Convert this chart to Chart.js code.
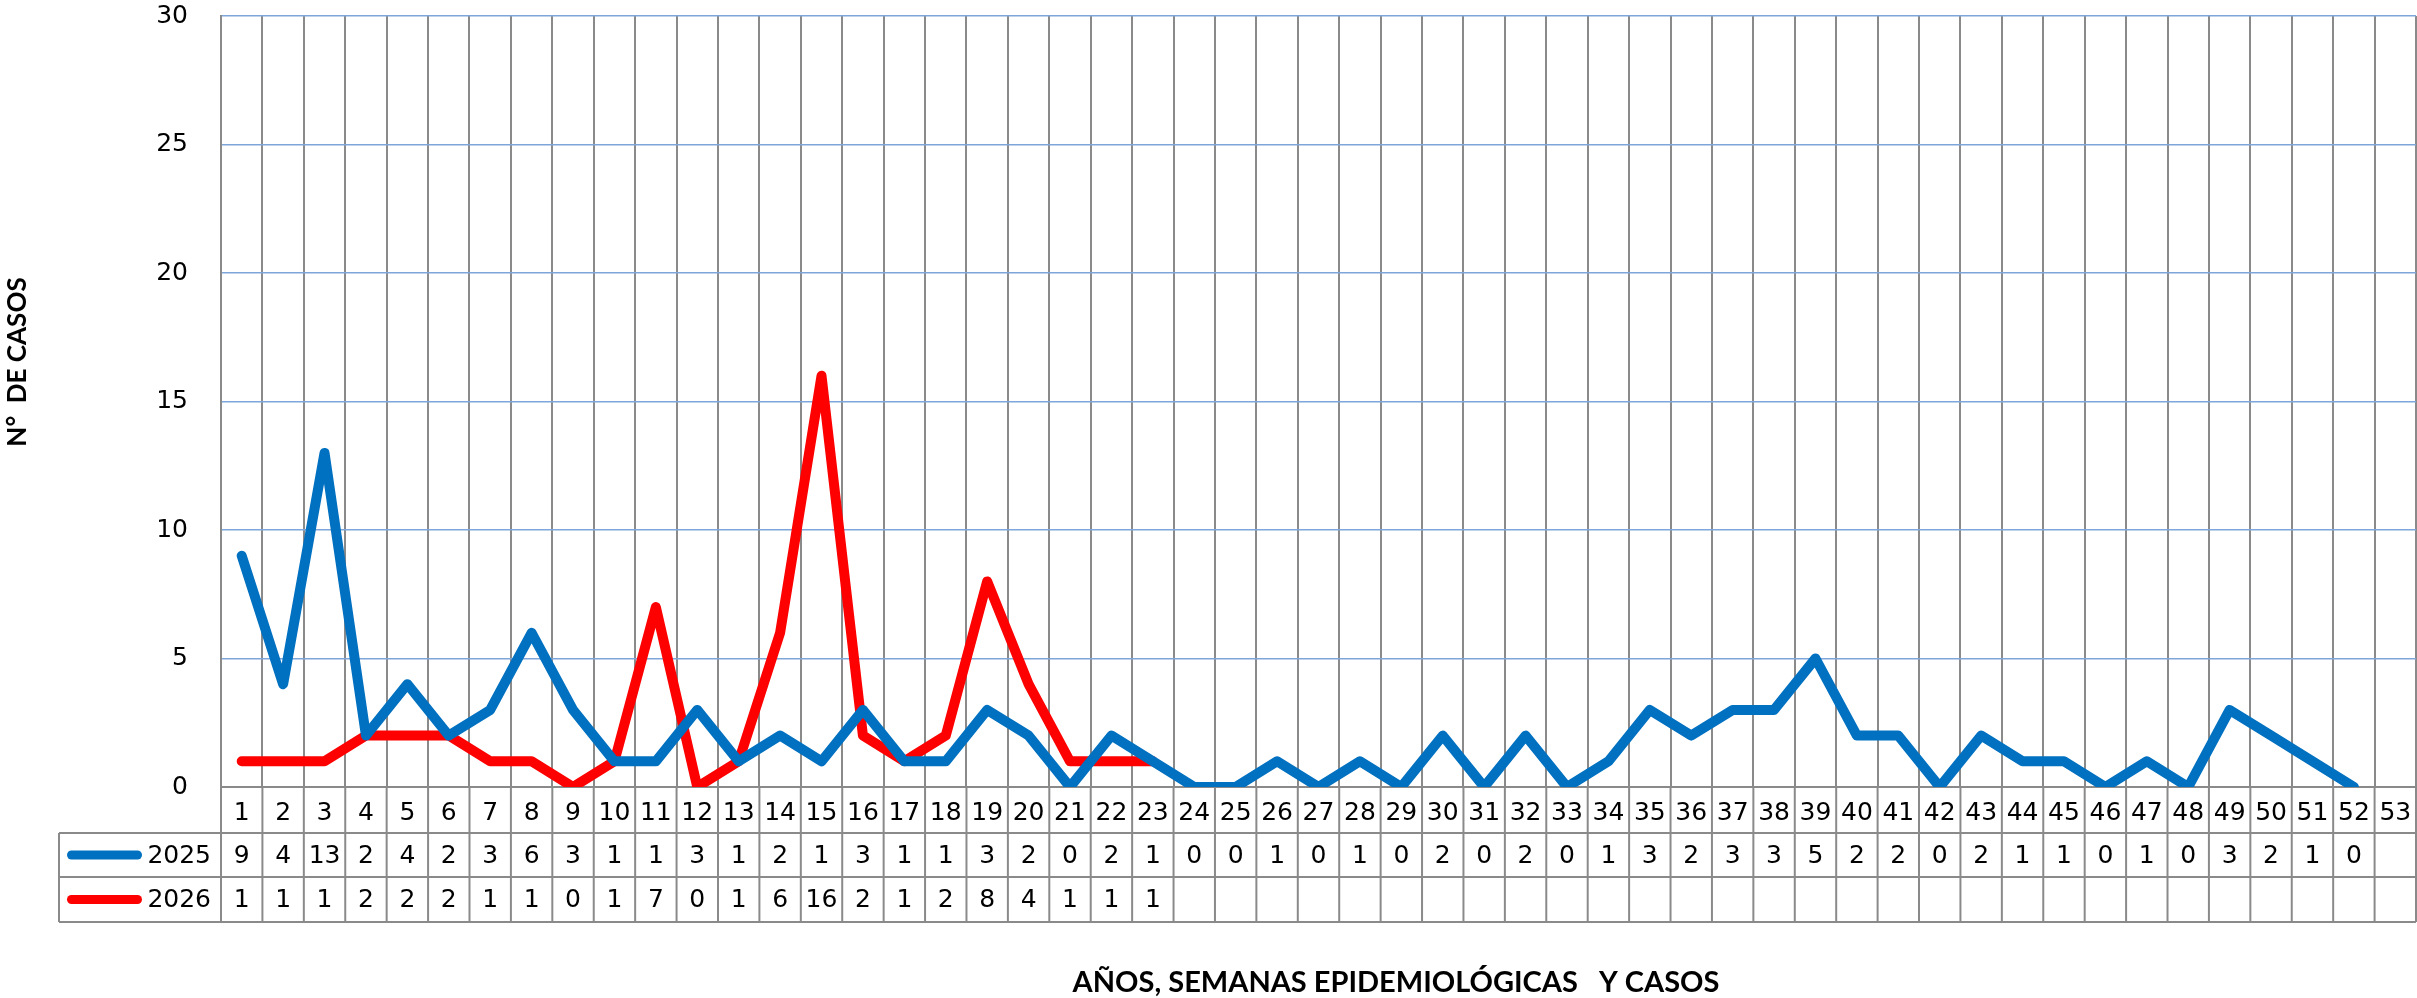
<!DOCTYPE html>
<html><head><meta charset="utf-8">
<script src="https://cdn.jsdelivr.net/npm/chart.js@4.4.1/dist/chart.umd.min.js"></script>
<style>html,body{margin:0;padding:0;background:#fff;}canvas{display:block;}</style>
</head><body>
<canvas id="c" width="2417" height="998"></canvas>
<script>
const weeks = ['1','2','3','4','5','6','7','8','9','10','11','12','13','14','15','16','17','18','19','20','21','22','23','24','25','26','27','28','29','30','31','32','33','34','35','36','37','38','39','40','41','42','43','44','45','46','47','48','49','50','51','52','53'];
const cases2025 = [9,4,13,2,4,2,3,6,3,1,1,3,1,2,1,3,1,1,3,2,0,2,1,0,0,1,0,1,0,2,0,2,0,1,3,2,3,3,5,2,2,0,2,1,1,0,1,0,3,2,1,0,null];
const cases2026 = [1,1,1,2,2,2,1,1,0,1,7,0,1,6,16,2,1,2,8,4,1,1,1,null,null,null,null,null,null,null,null,null,null,null,null,null,null,null,null,null,null,null,null,null,null,null,null,null,null,null,null,null,null];
const yTicks = [0,5,10,15,20,25,30];
const seriesNames = ['2025','2026'];
const yTitle = 'N°  DE CASOS';
const xTitle = 'AÑOS, SEMANAS EPIDEMIOLÓGICAS   Y CASOS';

const BLUE = '#0070C0', RED = '#FF0000', GRIDV = '#8A8A8A', GRIDH = '#7EA6DA';
const NUMFONT = '25px "DejaVu Sans"';

const tablePlugin = {
  id: 'dataTable',
  afterDraw(chart) {
    const ctx = chart.ctx, x = chart.scales.x;
    const n = weeks.length;
    const left = chart.chartArea.left, right = chart.chartArea.right;
    const colW = (right - left) / n;
    const y0 = chart.chartArea.bottom;
    const r1 = y0 + 46, r2 = r1 + 44, r3 = r2 + 45;
    const legL = 59;
    ctx.save();
    ctx.strokeStyle = GRIDV; ctx.lineWidth = 2;
    const ln = (a, b, c, d) => { ctx.beginPath(); ctx.moveTo(a, b); ctx.lineTo(c, d); ctx.stroke(); };
    for (let i = 0; i <= n; i++) { const px = left + i * colW; ln(px, y0, px, r3); }
    ln(legL, r1, legL, r3);
    ln(legL, r1, right, r1); ln(legL, r2, right, r2); ln(legL, r3, right, r3);
    ctx.fillStyle = '#000'; ctx.font = NUMFONT; ctx.textAlign = 'center'; ctx.textBaseline = 'middle';
    const rows = [{d: cases2025, c: BLUE, y: (r1 + r2) / 2}, {d: cases2026, c: RED, y: (r2 + r3) / 2}];
    rows.forEach((row, ri) => {
      row.d.forEach((v, i) => {
        if (v === null) return;
        ctx.fillText(String(v), x.getPixelForValue(i), row.y + 1);
      });
      ctx.strokeStyle = row.c; ctx.lineWidth = 9; ctx.lineCap = 'round';
      ln(71.5, row.y, 137.5, row.y);
      ctx.textAlign = 'right';
      ctx.fillText(seriesNames[ri], 211, row.y + 1);
      ctx.textAlign = 'center';
      ctx.strokeStyle = GRIDV; ctx.lineWidth = 2; ctx.lineCap = 'butt';
    });
    ctx.fillStyle = '#000';
    ctx.font = 'bold 26px Lato';
    ctx.save(); ctx.translate(18, 362); ctx.rotate(-Math.PI / 2);
    ctx.textAlign = 'center'; ctx.textBaseline = 'middle';
    ctx.fillText(yTitle, 0, 0);
    ctx.restore();
    ctx.font = 'bold 29px Lato';
    ctx.textAlign = 'center'; ctx.textBaseline = 'middle';
    ctx.fillText(xTitle, 1396, 983);
    ctx.restore();
  }
};

new Chart(document.getElementById('c').getContext('2d'), {
  type: 'line',
  data: {
    labels: weeks,
    datasets: [
      {label: seriesNames[0], data: cases2025, borderColor: BLUE, backgroundColor: BLUE, borderWidth: 10, pointRadius: 0, tension: 0, borderCapStyle: 'round', borderJoinStyle: 'round', spanGaps: false},
      {label: seriesNames[1], data: cases2026, borderColor: RED, backgroundColor: RED, borderWidth: 10, pointRadius: 0, tension: 0, borderCapStyle: 'round', borderJoinStyle: 'round', spanGaps: false}
    ]
  },
  options: {
    responsive: false,
    animation: false,
    layout: {padding: {top: 16, right: 1, left: 0, bottom: 0}},
    plugins: {legend: {display: false}, tooltip: {enabled: false}, title: {display: false}},
    scales: {
      x: {
        type: 'category', offset: true,
        grid: {color: GRIDV, lineWidth: 2, drawTicks: false, offset: true},
        border: {color: GRIDV, width: 2},
        ticks: {font: {family: 'DejaVu Sans', size: 25}, color: '#000', padding: 11, maxRotation: 0, minRotation: 0, autoSkip: false},
        afterFit(s) { s.height = 211; s.paddingLeft = 0; s.paddingRight = 0; }
      },
      y: {
        min: 0, max: 30,
        afterBuildTicks(s) { s.ticks = yTicks.map(v => ({value: v})); },
        grid: {color: GRIDH, lineWidth: 1.5, drawTicks: false},
        border: {color: GRIDV, width: 2},
        ticks: {font: {family: 'DejaVu Sans', size: 25}, color: '#000', padding: 33},
        afterFit(s) { s.width = 221; s.paddingTop = 0; s.paddingBottom = 0; }
      }
    }
  },
  plugins: [tablePlugin]
});
</script>
</body></html>
